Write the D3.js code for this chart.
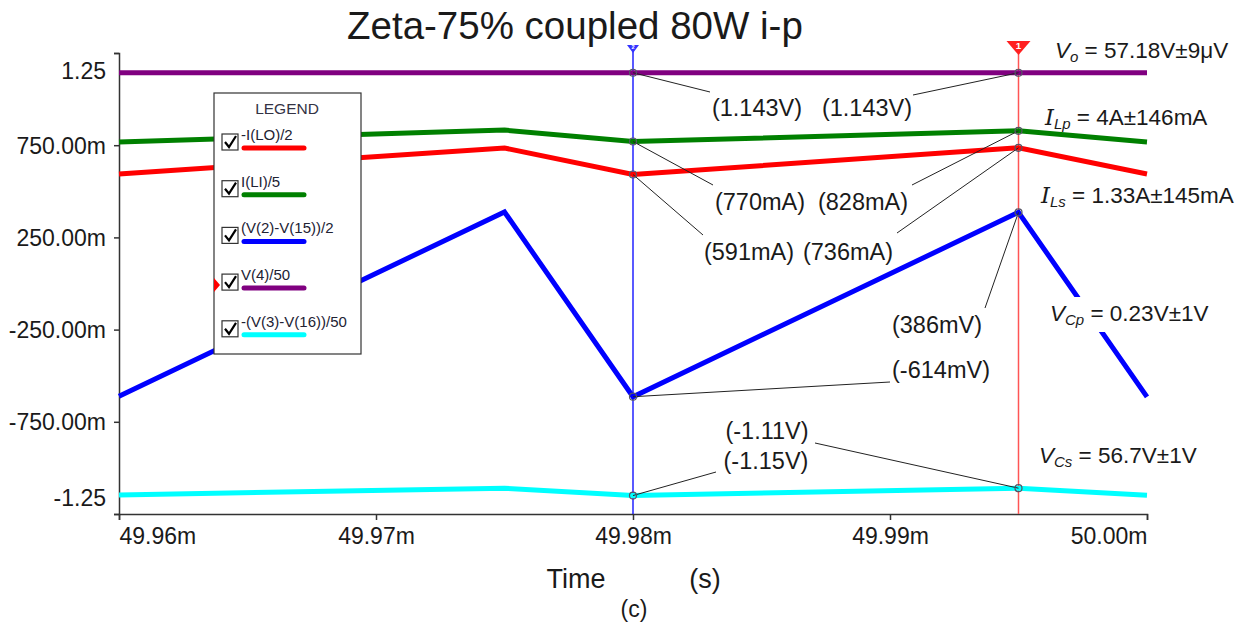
<!DOCTYPE html>
<html lang="en">
<head>
<meta charset="UTF-8">
<title>Zeta-75% coupled 80W i-p</title>
<style>
  body { margin: 0; background: #fff; }
  text { font-family: Arial, "Liberation Sans", sans-serif; fill: #1a1a1a; }
  .tick text { font-size: 23px; }
  .anno { font-size: 23.5px; }
</style>
</head>
<body>
<svg width="1251" height="625"></svg>
<script src="https://d3js.org/d3.v7.min.js"></script>
<script>
// time in ms
var times = [49.96, 49.975, 49.98, 49.995, 50.00];
var iLO = [0.594, 0.735, 0.591, 0.736, 0.594];        // -I(LO)/2
var iLI = [0.767, 0.832, 0.770, 0.828, 0.767];        // I(LI)/5
var vCp = [-0.612, 0.388, -0.614, 0.386, -0.615];     // (V(2)-V(15))/2
var vOut = [1.143, 1.143, 1.143, 1.143, 1.143];       // V(4)/50
var vCs = [-1.147, -1.11, -1.15, -1.11, -1.148];      // -(V(3)-V(16))/50

var yTicks = [-1.25, -0.75, -0.25, 0.25, 0.75, 1.25];
var yTickLabels = ["-1.25", "-750.00m", "-250.00m", "250.00m", "750.00m", "1.25"];
var xTicks = [49.96, 49.97, 49.98, 49.99, 50.00];
var xTickLabels = ["49.96m", "49.97m", "49.98m", "49.99m", "50.00m"];

var legendNames = ["-I(LO)/2", "I(LI)/5", "(V(2)-V(15))/2", "V(4)/50", "-(V(3)-V(16))/50"];
var legendColors = ["#ff0000", "#008000", "#0000ff", "#800080", "#00ffff"];

var cursorTimes = [49.98, 49.995];   // cursor 2 (blue), cursor 1 (red)

var svg = d3.select("svg");

var x = d3.scaleLinear().domain([49.96, 50.00]).range([119, 1147]);
var y = d3.scaleLinear().domain([-1.25, 1.25]).range([514, 53]);

// title
svg.append("text")
    .attr("x", 347).attr("y", 39)
    .style("font-size", "38.5px")
    .text("Zeta-75% coupled 80W i-p");

// axes
var yAxis = svg.append("g")
    .attr("transform", "translate(119,0)")
    .call(d3.axisLeft(y).tickValues(yTicks).tickSize(5).tickPadding(8)
        .tickFormat(function(d, i) { return yTickLabels[i]; }));
yAxis.selectAll(".tick text").attr("dy", function(d) {
    if (d === 1.25) return "1.1em";
    if (d === -1.25) return "-0.38em";
    return "0.35em";
});

var xAxis = svg.append("g")
    .attr("transform", "translate(0,514)")
    .call(d3.axisBottom(x).tickValues(xTicks).tickSize(6).tickPadding(8)
        .tickFormat(function(d, i) { return xTickLabels[i]; }));
xAxis.selectAll(".tick text").attr("text-anchor", function(d, i) {
    if (i === 0) return "start";
    if (i === xTicks.length - 1) return "end";
    return "middle";
});
svg.selectAll(".domain").attr("stroke", "#333").attr("stroke-width", 1.5);
svg.selectAll(".tick line").attr("stroke", "#333").attr("stroke-width", 1.5);

// axis title
svg.append("text").attr("x", 576).attr("y", 588).attr("text-anchor", "middle")
    .style("font-size", "27px").text("Time");
svg.append("text").attr("x", 705).attr("y", 588).attr("text-anchor", "middle")
    .style("font-size", "27px").text("(s)");
svg.append("text").attr("x", 634).attr("y", 617).attr("text-anchor", "middle")
    .style("font-size", "23px").text("(c)");

// cursors
svg.append("line")
    .attr("x1", x(cursorTimes[0])).attr("x2", x(cursorTimes[0]))
    .attr("y1", 48).attr("y2", 514)
    .attr("stroke", "#0000ff").attr("stroke-width", 1.3);
svg.append("line")
    .attr("x1", x(cursorTimes[1])).attr("x2", x(cursorTimes[1]))
    .attr("y1", 44).attr("y2", 514)
    .attr("stroke", "#ff5555").attr("stroke-width", 1.5);

// series
var series = [iLO, iLI, vCp, vOut, vCs];
var line = d3.line()
    .x(function(d, i) { return x(times[i]); })
    .y(function(d) { return y(d); });

var order = [3, 1, 0, 2, 4];
order.forEach(function(k) {
    svg.append("path")
        .datum(series[k])
        .attr("d", line)
        .attr("fill", "none")
        .attr("stroke", legendColors[k])
        .attr("stroke-width", 5);
});

// cursor heads
function head(cx, w, h, top, col, label) {
    svg.append("path")
        .attr("d", "M" + (cx - w / 2) + "," + top + "L" + (cx + w / 2) + "," + top + "L" + cx + "," + (top + h) + "Z")
        .attr("fill", col);
    svg.append("text").attr("x", cx).attr("y", top + h * 0.55)
        .attr("text-anchor", "middle").style("font-size", (h * 0.7) + "px")
        .style("fill", "#fff").style("font-weight", "bold").text(label);
}
head(x(cursorTimes[0]), 12, 8, 45, "#3333ff", "2");
head(x(cursorTimes[1]), 24, 14, 41, "#ff2020", "1");

// annotations: [series, cursor index, label, label x, label y, leader end x, leader end y]
var annos = [
    [3, 0, "(1.143V)", 757, 108, 710, 92],
    [3, 1, "(1.143V)", 867, 108, 913, 95],
    [1, 0, "(770mA)", 760, 202, 713, 185],
    [1, 1, "(828mA)", 863, 202, 912, 185],
    [0, 0, "(591mA)", 749, 252, 703, 235],
    [0, 1, "(736mA)", 848, 252, 897, 233],
    [2, 1, "(386mV)", 937, 325, 985, 308],
    [2, 0, "(-614mV)", 941, 370, 890, 382],
    [4, 1, "(-1.11V)", 767, 431, 815, 443],
    [4, 0, "(-1.15V)", 766, 461, 716, 472]
];
var tIdx = [2, 3];
annos.forEach(function(a) {
    var px = x(cursorTimes[a[1]]), py = y(series[a[0]][tIdx[a[1]]]);
    svg.append("line").attr("x1", px).attr("y1", py).attr("x2", a[5]).attr("y2", a[6])
        .attr("stroke", "#222").attr("stroke-width", 1);
    svg.append("text").attr("class", "anno").attr("x", a[3]).attr("y", a[4])
        .attr("dy", "0.35em").attr("text-anchor", "middle").text(a[2]);
});
// markers at cursor crossings
[0, 1].forEach(function(c) {
    series.forEach(function(s) {
        svg.append("circle")
            .attr("cx", x(cursorTimes[c])).attr("cy", y(s[tIdx[c]])).attr("r", 3.5)
            .attr("fill", "none").attr("stroke", "#556").attr("stroke-width", 1.2);
    });
});

// right-side summary labels
var summaries = [
    ["V", "o", "57.18V\u00b19\u03bcV", 1055, 50, false],
    ["I", "Lp", "4A\u00b1146mA", 1045, 117, true],
    ["I", "Ls", "1.33A\u00b1145mA", 1041, 195, true],
    ["V", "Cp", "0.23V\u00b11V", 1050, 313, false],
    ["V", "Cs", "56.7V\u00b11V", 1039, 455, false]
];
summaries.forEach(function(s, i) {
    if (i === 3) {
        svg.append("rect").attr("x", 1046).attr("y", 297).attr("width", 170).attr("height", 35)
            .attr("fill", "#fff");
    }
    var t = svg.append("text").attr("x", s[3]).attr("y", s[4]).attr("dy", "0.35em")
        .style("font-size", "22.5px");
    t.append("tspan").style("font-style", "italic")
        .style("font-family", s[5] ? "'DejaVu Serif', serif" : "Arial, sans-serif")
        .text(s[0]);
    t.append("tspan").style("font-style", "italic").style("font-size", "15px")
        .attr("dy", "4").text(s[1]);
    t.append("tspan").attr("dy", "-4").text(" = " + s[2]);
});

// legend
var lg = svg.append("g");
lg.append("rect").attr("x", 214).attr("y", 93).attr("width", 147).attr("height", 261)
    .attr("fill", "#fff").attr("stroke", "#333").attr("stroke-width", 1.2);
lg.append("text").attr("x", 287).attr("y", 114).attr("text-anchor", "middle")
    .style("font-size", "15.5px").style("fill", "#334").text("LEGEND");
legendNames.forEach(function(n, i) {
    var yy = 142 + i * 46.7;
    lg.append("rect").attr("x", 222).attr("y", yy - 8).attr("width", 16).attr("height", 16)
        .attr("fill", "#fff").attr("stroke", "#333").attr("stroke-width", 1.2);
    lg.append("path").attr("d", "M225," + (yy) + "L229," + (yy + 5) + "L236," + (yy - 6))
        .attr("fill", "none").attr("stroke", "#000").attr("stroke-width", 2.2);
    lg.append("text").attr("x", 241).attr("y", yy - 2)
        .style("font-size", "15px").style("fill", "#223").text(n);
    lg.append("line").attr("x1", 244).attr("x2", 304).attr("y1", yy + 6).attr("y2", yy + 6)
        .attr("stroke", legendColors[i]).attr("stroke-width", 5).attr("stroke-linecap", "round");
});
// small red marker at legend edge
svg.append("path").attr("d", "M214,278L220,285L214,292Z").attr("fill", "#ff0000");
</script>
</body>
</html>
